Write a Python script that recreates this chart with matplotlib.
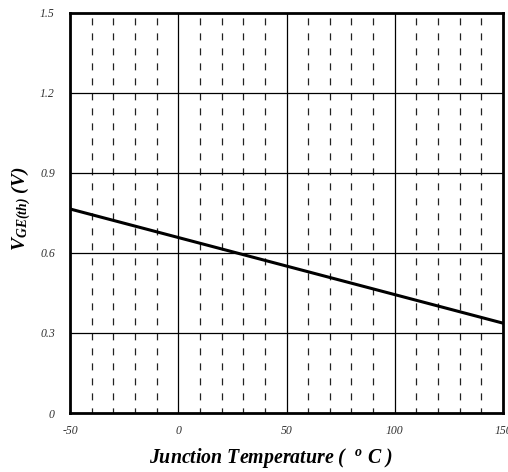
import matplotlib
matplotlib.use("Agg")
import matplotlib.pyplot as plt
import numpy as np

# junction temperature (C) vs gate threshold voltage (V)
temp = [-50, 0, 50, 100, 150]
vth = [0.765, 0.658, 0.551, 0.444, 0.337]

x_major = [-50, 0, 50, 100, 150]
x_minor = [t for t in range(-40, 150, 10) if t % 50 != 0]
y_major = [0, 0.3, 0.6, 0.9, 1.2, 1.5]
y_labels = ["0", "0.3", "0.6", "0.9", "1.2", "1.5"]

plt.rcParams['font.family'] = 'Liberation Serif'
plt.rcParams['mathtext.fontset'] = 'custom'
plt.rcParams['mathtext.it'] = 'Liberation Serif:italic:bold'
plt.rcParams['mathtext.rm'] = 'Liberation Serif:italic:bold'
plt.rcParams['mathtext.bf'] = 'Liberation Serif:italic:bold'

fig = plt.figure(figsize=(5.08, 4.72), dpi=100)
ax = fig.add_axes([0.138, 0.125, 0.852, 0.8475])

for t in x_minor:
    ax.axvline(t, color='#222222', lw=0.9, ls=(1.5, (5.6, 6.4)), zorder=1)
for t in x_major[1:-1]:
    ax.axvline(t, color='black', lw=0.9, zorder=1)
for v in y_major[1:-1]:
    ax.axhline(v, color='black', lw=0.9, zorder=1)

ax.plot(temp, vth, color='black', lw=2.2, zorder=3)

ax.set_xlim(-50, 150)
ax.set_ylim(0, 1.5)
ax.set_xticks(x_major)
ax.set_xticklabels([str(t) for t in x_major], fontsize=8.5, style='italic', color='#333333')
ax.set_yticks(y_major)
ax.set_yticklabels(y_labels, fontsize=8.5, style='italic', color='#333333')
ax.tick_params(length=0, pad=9)
ax.tick_params(axis='y', pad=11)
for s in ax.spines.values():
    s.set_linewidth(2)

ax.set_xlabel(r"Junction Temperature (  $^{o}$ C )", fontsize=14.3, fontweight='bold',
              style='italic', labelpad=6)
ax.xaxis.label.set_x(0.464)
ax.set_ylabel(r"V$_{GE(th)}$ (V)", fontsize=14, fontweight='bold',
              style='italic', labelpad=5)
ax.yaxis.label.set_y(0.51)

fig.savefig("out.png", dpi=100)
